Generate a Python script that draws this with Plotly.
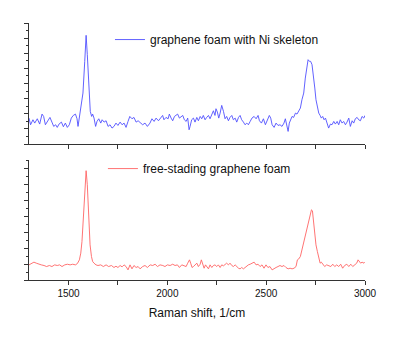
import plotly.graph_objects as go

# Top series: graphene foam with Ni skeleton
x_ni = [1300, 1308, 1320, 1329, 1342, 1354, 1366, 1374, 1383, 1393, 1406, 1416, 1425, 1435, 1443, 1452,
        1464, 1474, 1484, 1494, 1504, 1514, 1524, 1535, 1543, 1548, 1556, 1565, 1573, 1582, 1589, 1595,
        1602, 1610, 1617, 1622, 1629, 1637, 1644, 1653, 1663, 1670, 1680, 1690, 1700, 1710, 1720, 1730,
        1740, 1750, 1761, 1771, 1781, 1791, 1801, 1810, 1821, 1831, 1842, 1852, 1862,
        1875, 1887, 1899, 1912, 1922, 1933, 1943, 1955, 1966, 1976, 1983, 1993, 2004, 2010, 2019, 2027,
        2036, 2044, 2052, 2061, 2069, 2078, 2086, 2095, 2103, 2110, 2115, 2123, 2132, 2140, 2149, 2157,
        2166, 2174, 2182, 2191, 2199, 2208, 2216, 2225, 2233, 2241, 2246, 2253, 2260, 2267, 2275, 2284,
        2292, 2300, 2309, 2317, 2326, 2334, 2343, 2351, 2360, 2368, 2376, 2385, 2393, 2402, 2410, 2419,
        2428, 2439, 2449, 2459, 2466, 2476, 2486, 2496, 2506, 2516, 2523, 2530, 2540, 2550, 2560, 2570,
        2580, 2590, 2597, 2606, 2611, 2617, 2624, 2631, 2639, 2648, 2656, 2665, 2673, 2681, 2690, 2698,
        2707, 2712, 2719, 2725, 2732, 2739, 2746, 2752, 2759, 2766, 2773, 2779, 2786, 2793, 2800, 2810,
        2816, 2825, 2833, 2842, 2850, 2859, 2867, 2875, 2884, 2892, 2901, 2909, 2918, 2926, 2935, 2943,
        2951, 2960, 2968, 2977, 2985, 2994, 3000]
y_ni = [3.43, 2.55, 3.21, 2.77, 3.34, 2.64, 3.96, 3.65, 2.55, 2.99, 3.52, 2.90, 2.33, 2.55, 2.20, 2.64,
        2.90, 2.29, 2.77, 2.20, 2.55, 3.43, 3.78, 3.96, 3.34, 2.33, 3.78, 4.76, 6.74, 10.93, 14.37, 11.81,
        7.40, 4.32, 3.65, 3.96, 3.43, 2.33, 2.99, 3.34, 2.77, 3.21, 2.90, 3.08, 2.33, 2.55, 2.11, 2.33,
        2.77, 2.46, 2.90, 2.55, 2.77, 2.20, 2.99, 3.65, 3.34, 3.52, 2.90, 3.08, 2.85,
        2.55, 2.77, 2.33, 2.77, 3.34, 2.99, 3.43, 3.08, 3.43, 3.78, 3.21, 3.52, 3.34, 3.96, 3.43, 3.08,
        3.65, 3.78, 3.96, 3.43, 3.65, 3.78, 3.21, 2.99, 3.43, 1.89, 2.33, 3.21, 3.43, 2.90, 3.52, 3.08,
        3.65, 3.34, 3.78, 3.21, 3.52, 3.78, 3.34, 3.96, 4.40, 3.78, 4.67, 4.23, 3.43, 4.09, 5.11, 4.32,
        3.34, 3.65, 3.08, 3.52, 3.78, 3.21, 3.43, 2.90, 3.52, 3.78, 3.21, 2.90, 2.55, 2.77, 2.55, 2.99,
        3.43, 3.65, 3.34, 3.78, 3.08, 2.77, 3.34, 2.55, 3.21, 3.78, 3.43, 2.55, 2.20, 2.77, 2.46, 2.55,
        2.33, 2.77, 3.34, 2.33, 1.67, 2.77, 3.34, 3.65, 3.52, 4.09, 3.96, 4.40, 4.76, 5.86, 6.74, 8.72,
        10.49, 11.15, 10.93, 10.93, 10.49, 9.17, 7.40, 5.86, 4.76, 4.09, 3.78, 3.43, 3.65, 3.21, 3.43, 2.55,
        2.11, 2.64, 2.55, 2.99, 2.64, 2.99, 2.55, 3.21, 2.77, 2.99, 2.55, 2.90, 3.43, 2.33, 3.08, 2.77,
        3.34, 3.52, 3.21, 3.08, 3.65, 3.43, 3.78]

# Bottom series: free-standing graphene foam
x_fs = [1300, 1312, 1325, 1337, 1349, 1362, 1376, 1389, 1403, 1416, 1430, 1443, 1455, 1467, 1481, 1494,
        1508, 1521, 1535, 1545, 1555, 1562, 1568, 1575, 1582, 1589, 1595, 1602, 1609, 1616, 1622, 1629,
        1639, 1649, 1663, 1676, 1690, 1703, 1717, 1730, 1740, 1750, 1761, 1771, 1781, 1791, 1801, 1811,
        1821, 1831, 1842, 1852, 1862,
        1875, 1887, 1899, 1913, 1926, 1938, 1950, 1963, 1977, 1988, 2000, 2014, 2027, 2039, 2051, 2061,
        2073, 2085, 2095, 2103, 2112, 2118, 2125, 2132, 2140, 2149, 2157, 2166, 2172, 2179, 2186, 2193,
        2199, 2208, 2216, 2225, 2233, 2241, 2250, 2258, 2267, 2275, 2284, 2292, 2300, 2309, 2317, 2326,
        2334, 2343, 2351, 2360, 2368, 2376, 2385, 2393, 2402, 2410, 2419, 2427,
        2439, 2449, 2459, 2469, 2479, 2489, 2499, 2509, 2519, 2530, 2540, 2550, 2560, 2570, 2580, 2590,
        2600, 2611, 2621, 2631, 2641, 2651, 2658, 2665, 2673, 2681, 2690, 2698, 2707, 2715, 2722, 2729,
        2734, 2739, 2746, 2752, 2759, 2766, 2773, 2779, 2786, 2796, 2806, 2816, 2827, 2837, 2847, 2857,
        2867, 2877, 2887, 2897, 2908, 2918, 2928, 2938, 2948, 2958, 2965, 2972, 2978, 2985, 2995, 3000]
y_fs = [1.90, 2.11, 2.24, 2.11, 1.98, 1.90, 1.82, 1.69, 1.82, 1.69, 1.90, 1.82, 1.90, 1.69, 1.90, 1.98,
        1.90, 1.98, 1.90, 2.07, 2.53, 3.37, 4.83, 7.77, 11.54, 13.72, 11.96, 7.77, 4.41, 2.95, 2.32, 2.11,
        1.90, 1.82, 1.90, 1.69, 1.90, 1.69, 1.82, 1.57, 1.73, 1.57, 1.82, 1.65, 1.90, 1.69, 1.27, 1.90,
        1.40, 1.82, 1.57, 1.69, 1.40,
        1.69, 1.82, 1.57, 1.90, 1.82, 1.98, 1.69, 1.90, 1.82, 1.69, 1.90, 1.82, 1.98, 1.82, 1.90, 1.57,
        1.90, 1.82, 1.69, 2.11, 2.53, 2.11, 1.57, 1.69, 1.90, 2.11, 1.69, 1.98, 2.53, 2.11, 1.48, 1.90,
        1.69, 1.40, 1.90, 1.57, 1.82, 1.90, 1.69, 1.90, 1.57, 1.90, 1.78, 1.98, 2.11, 1.90, 2.11, 1.82,
        1.69, 1.90, 1.69, 1.48, 1.40, 1.57, 1.40, 1.57, 1.69, 1.90, 1.98, 2.11,
        2.24, 1.90, 1.98, 1.69, 1.90, 1.48, 1.90, 1.57, 1.69, 1.27, 1.48, 1.57, 1.69, 1.82, 1.69, 1.82,
        1.57, 1.40, 1.48, 1.40, 1.48, 1.69, 2.53, 2.65, 2.95, 3.79, 4.62, 5.67, 6.72, 7.35, 8.27, 8.81,
        8.69, 7.35, 5.67, 4.41, 3.58, 2.95, 2.11, 2.24, 1.98, 1.69, 1.90, 1.82, 1.69, 1.98, 1.69, 1.90,
        1.69, 1.98, 1.48, 1.82, 1.98, 1.69, 1.98, 1.69, 1.90, 2.11, 2.53, 2.24, 2.11, 2.24, 2.11, 2.24]

x_tickvals = [1500, 1750, 2000, 2250, 2500, 2750, 3000]
x_ticktext = ["1500", "", "2000", "", "2500", "", "3000"]
name_ni = "graphene foam with Ni skeleton"
name_fs = "free-stading graphene foam"
x_title = "Raman shift, 1/cm"

FONT = "Arial, Liberation Sans, sans-serif"
AX = "#333333"

fig = go.Figure()
fig.add_trace(go.Scatter(x=x_ni, y=y_ni, mode="lines", name=name_ni,
                         line=dict(color="rgb(80,80,255)", width=0.9),
                         xaxis="x", yaxis="y", legend="legend"))
fig.add_trace(go.Scatter(x=x_fs, y=y_fs, mode="lines", name=name_fs,
                         line=dict(color="rgb(255,100,100)", width=0.9),
                         xaxis="x2", yaxis="y2", legend="legend2"))

common_x = dict(range=[1300, 3000], showline=True, linecolor=AX, linewidth=1.2,
                ticks="outside", ticklen=4, tickwidth=1, tickcolor=AX,
                tickvals=x_tickvals, showgrid=False, zeroline=False)
common_y = dict(showline=True, linecolor=AX, linewidth=1.2, ticks="outside", ticklen=4,
                tickwidth=1, tickcolor=AX, dtick=2, tick0=0, showticklabels=False,
                showgrid=False, zeroline=False,
                minor=dict(ticks="outside", ticklen=2, dtick=1, tick0=0, tickcolor=AX, showgrid=False))

fig.update_layout(
    width=400, height=342,
    margin=dict(l=29, r=35, t=23, b=62),
    paper_bgcolor="white", plot_bgcolor="white",
    font=dict(family=FONT, color="#111111"),
    xaxis=dict(**common_x, domain=[0, 1], anchor="y", showticklabels=False),
    yaxis=dict(**common_y, range=[0, 16], domain=[0.529, 1], anchor="x"),
    xaxis2=dict(**common_x, domain=[0, 1], anchor="y2", ticktext=x_ticktext,
                tickfont=dict(size=10, family=FONT, color="#111111"),
                title=dict(text=x_title, font=dict(size=12, family=FONT, color="#111111"), standoff=10)),
    yaxis2=dict(**common_y, range=[0, 15], domain=[0, 0.465], anchor="x2"),
    legend=dict(x=0.241, y=0.992, xanchor="left", yanchor="top", bgcolor="rgba(0,0,0,0)",
                font=dict(size=12, family=FONT, color="#111111")),
    legend2=dict(x=0.22, y=0.49, xanchor="left", yanchor="top", bgcolor="rgba(0,0,0,0)",
                 font=dict(size=12, family=FONT, color="#111111")),
    showlegend=True,
)

fig.write_html("out.html")
